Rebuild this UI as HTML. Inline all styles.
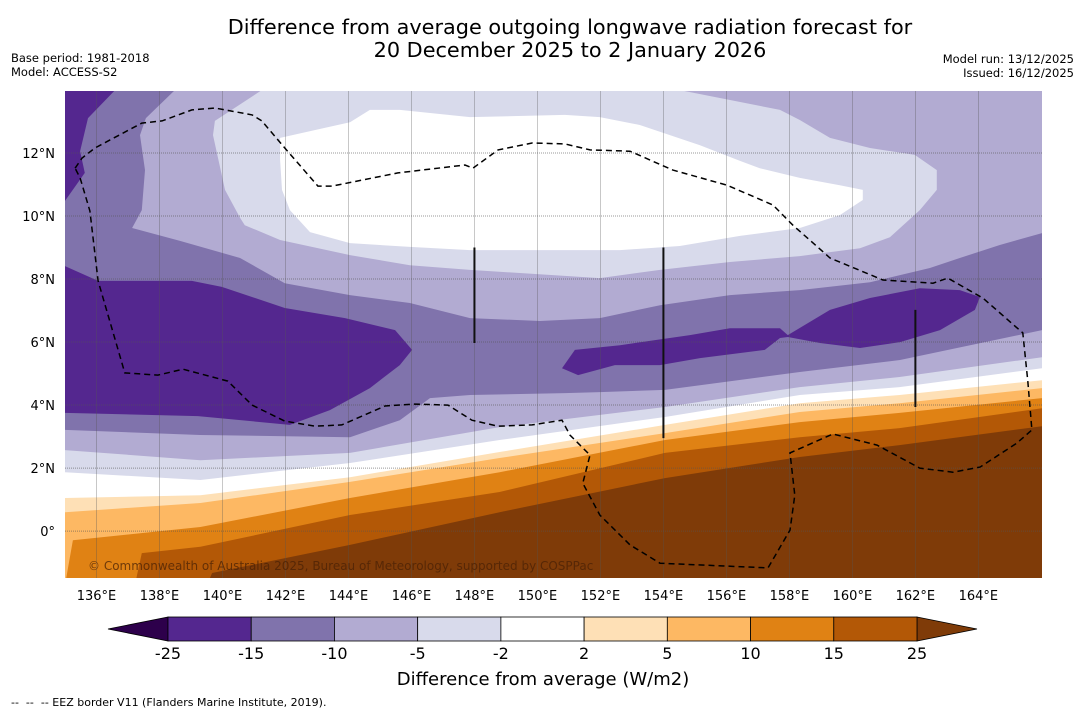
<!DOCTYPE html>
<html><head><meta charset="utf-8"><style>
html,body{margin:0;padding:0;background:#fff;width:1085px;height:713px;overflow:hidden;font-family:"Liberation Sans","DejaVu Sans",sans-serif;}
svg{position:absolute;left:0;top:0}
</style></head><body>
<svg id="chart" width="1085" height="713" xmlns="http://www.w3.org/2000/svg">
<text x="570" y="34" text-anchor="middle" font-size="20.8" font-family="DejaVu Sans, sans-serif">Difference from average outgoing longwave radiation forecast for</text>
<text x="570" y="57" text-anchor="middle" font-size="20.8" font-family="DejaVu Sans, sans-serif">20 December 2025 to 2 January 2026</text>
<text x="11" y="62" font-size="11.5" font-family="DejaVu Sans, sans-serif">Base period: 1981-2018</text>
<text x="11" y="76" font-size="11.5" font-family="DejaVu Sans, sans-serif">Model: ACCESS-S2</text>
<text x="1074" y="63" text-anchor="end" font-size="11.5" font-family="DejaVu Sans, sans-serif">Model run: 13/12/2025</text>
<text x="1074" y="77" text-anchor="end" font-size="11.5" font-family="DejaVu Sans, sans-serif">Issued: 16/12/2025</text>
<defs><clipPath id="mapclip"><rect x="65" y="91" width="977" height="487"/></clipPath></defs>
<g id="map" clip-path="url(#mapclip)"></g>
<g id="axes"></g>
<g id="cbar"></g>
<text x="543" y="685" text-anchor="middle" font-size="18" font-family="DejaVu Sans, sans-serif">Difference from average (W/m2)</text>
<text x="11" y="706" font-size="11" font-family="DejaVu Sans, sans-serif" xml:space="preserve">--  --  -- EEZ border V11 (Flanders Marine Institute, 2019).</text>
</svg>
<script>
// ---- data ----
const levels = [-25,-15,-10,-5,-2,2,5,10,15,25];
const levelColors = ["#54278f","#8073ac","#b2abd2","#d8daeb","#ffffff","#fee0b6","#fdb863","#e08214","#b35806"];
const underColor = "#2d004b";
const overColor = "#7f3b08";
const lonTicks = [136,138,140,142,144,146,148,150,152,154,156,158,160,162,164];
const latTicks = [0,2,4,6,8,10,12];
// contour regions [lon,lat]
const regionMedium = [[135,14],[138.49,14],[137.57,13.11],[137.38,12.57],[137.54,11.46],[137.44,10.19],[137.13,9.62],[138.65,9.21],[140.56,8.67],[141.98,7.87],[144.05,7.49],[145.95,7.24],[147.86,6.76],[150.08,6.67],[151.98,6.76],[153.89,7.17],[156.11,7.49],[158.33,7.65],[160.56,7.9],[162.46,8.35],[163.41,8.67],[164.68,9.08],[166.02,9.46],[166.02,6.38],[161.51,5.43],[158.33,5.05],[154.05,4.48],[151.98,4.41],[150.87,4.38],[147.86,4.32],[146.59,4.22],[145.63,3.52],[144.05,2.98],[139.29,3.05],[135,3.21]];
const regionDarkNW = [[135,14],[136.59,14],[135.73,13.11],[135.48,12.06],[135.63,11.37],[135,10.48]];
const regionDarkW = [[135,8.41],[136.05,7.94],[139.03,7.94],[139.98,7.75],[141.98,7.08],[143.89,6.76],[145.48,6.38],[146.02,5.75],[145.63,5.27],[144.68,4.54],[143.41,3.84],[142.14,3.37],[139.22,3.65],[135,3.75]];
const regionDarkE = [[150.78,5.17],[151.19,5.75],[152.62,5.9],[154.84,6.22],[156.11,6.44],[157.7,6.44],[157.95,6.22],[159.29,7.02],[160.56,7.4],[162.14,7.71],[163.41,7.65],[164.05,7.43],[163.89,7.02],[162.78,6.38],[161.51,6.0],[160.24,5.81],[158.97,5.97],[157.95,6.16],[157.7,6.13],[157.22,5.75],[155.16,5.49],[153.89,5.27],[152.46,5.27],[151.29,4.95]];
const regionLightestN = [[141.25,14],[139.76,13.02],[139.7,12.57],[140.08,10.83],[140.56,9.94],[140.71,9.71],[141.83,9.24],[144.05,8.76],[145.95,8.44],[147.86,8.29],[150.87,8.1],[151.98,8.03],[153.89,8.29],[156.11,8.54],[158.33,8.73],[160.24,8.98],[161.19,9.33],[162.14,10.19],[162.68,10.83],[162.68,11.46],[161.98,11.94],[160.56,12.16],[159.29,12.48],[158.33,13.05],[157.7,13.37],[154.52,14]];
const regionWhiteN = [[141.83,12.48],[144.05,12.98],[144.68,13.37],[145.63,13.37],[147.86,13.14],[150.87,13.21],[151.98,13.14],[153.25,12.89],[155.16,12.25],[156.43,11.75],[157.06,11.52],[158.33,11.21],[159.6,10.98],[160.33,10.83],[160.33,10.51],[159.6,10.03],[158.33,9.62],[156.43,9.37],[154.52,9.05],[152.62,8.92],[150.08,8.92],[147.86,8.92],[145.95,9.02],[144.05,9.14],[142.78,9.49],[142.14,10.19],[141.89,10.83],[141.83,11.78]];
// southern contour lines (region south of line filled)
const southLons = [135,139.3,144.05,148.8,154.05,158.33,161.5,166.02];
const lineM5 = [2.57,2.25,2.48,3.3,3.94,4.57,4.89,5.52];
const lineM2 = [1.87,1.62,2.16,2.89,3.62,4.32,4.57,5.17];
const lineP2 = [1.05,1.14,1.71,2.51,3.37,4.06,4.32,4.79];
const lineP5 = [0.6,0.89,1.56,2.32,3.11,3.78,4.06,4.54];
const lineP10 = [[135,-1.71],[135.25,-0.29],[139.3,0.13],[144.05,1.05],[148.8,1.87],[154.05,2.89],[158.33,3.46],[161.5,3.75],[166.02,4.22]];
const lineP15 = [[137.22,-1.71],[137.44,-0.7],[139.3,-0.5],[144.05,0.51],[148.8,1.24],[154.05,2.48],[158.33,2.98],[161.5,3.27],[166.02,3.9]];
const lineP25 = [[139.44,-1.87],[139.67,-1.33],[144.05,-0.44],[148.8,0.6],[154.05,1.68],[158.33,2.35],[161.5,2.73],[166.02,3.33]];
const eezBorder = [[135.32,11.52],[135.54,11.84],[135.95,12.16],[137.44,12.95],[138.08,13.02],[139.03,13.37],[139.76,13.43],[140.94,13.21],[141.25,13.02],[141.98,12.16],[143.03,10.95],[143.48,10.95],[145.57,11.37],[147.7,11.62],[147.95,11.52],[148.75,12.1],[149.83,12.32],[150.87,12.29],[151.67,12.1],[152.94,12.06],[154.3,11.46],[156.02,10.98],[157.48,10.35],[158.11,9.71],[159.29,8.67],[160.97,7.97],[162.56,7.87],[163.03,8.03],[164.14,7.4],[165.41,6.29],[165.57,4.76],[165.7,3.21],[165.22,2.79],[164.05,2.03],[163.19,1.87],[162.14,2.0],[160.78,2.73],[159.38,3.08],[158.02,2.48],[158.17,1.14],[158.02,0.03],[157.32,-1.17],[153.89,-1.02],[152.94,-0.44],[151.98,0.51],[151.44,1.52],[151.67,2.41],[151.03,3.05],[150.78,3.52],[149.83,3.37],[148.75,3.33],[147.92,3.52],[147.16,4.0],[146.11,4.03],[145.16,3.97],[143.79,3.37],[142.94,3.33],[141.98,3.49],[140.94,4.0],[140.17,4.76],[138.75,5.14],[137.95,4.95],[136.9,5.02],[136.05,7.94],[135.79,10.16],[135.48,11.21],[135.32,11.52]];
const markerLons = [148,154,162];
const markerTop = [9.0,9.0,7.02];
const markerBottom = [5.97,2.95,3.94];

// ---- axis functions ----
const X0=65, X1=1042, Y0=91, Y1=578;
const lonMin=135, lonMax=166.02, latMin=-1.49, latMax=13.97;
function x(lon){return X0+(lon-lonMin)/(lonMax-lonMin)*(X1-X0);}
function y(lat){return Y1-(lat-latMin)/(latMax-latMin)*(Y1-Y0);}
const NS="http://www.w3.org/2000/svg";
function mk(tag,attrs,parent){const e=document.createElementNS(NS,tag);for(const k in attrs)e.setAttribute(k,attrs[k]);parent.appendChild(e);return e;}
function pts(arr){return arr.map(p=>x(p[0]).toFixed(1)+","+y(p[1]).toFixed(1)).join(" ");}
function southPoly(pairs){return pts(pairs.concat([[167,pairs[pairs.length-1][1]],[167,-3],[134,-3],[134,pairs[0][1]]]));}
const map=document.getElementById('map');
let el;
el=mk('rect',{x:X0,y:Y0,width:X1-X0,height:Y1-Y0,fill:levelColors[2]},map);


el=mk('polygon',{points:pts(regionMedium),fill:levelColors[1]},map);


[regionDarkNW,regionDarkW,regionDarkE].forEach(r=>{
  const e=mk('polygon',{points:pts(r),fill:levelColors[0]},map);
  
  
});
el=mk('polygon',{points:pts(regionLightestN),fill:levelColors[3]},map);


el=mk('polygon',{points:pts(regionWhiteN),fill:levelColors[4]},map);


const southLines=[lineM5,lineM2,lineP2,lineP5].map(l=>l.map((v,i)=>[southLons[i],v])).concat([lineP10,lineP15,lineP25]);
const southColors=[levelColors[3],levelColors[4],levelColors[5],levelColors[6],levelColors[7],levelColors[8],overColor];
const southNames=['band-minus5-minus2-south','band-near-zero-south','band-2-5','band-5-10','band-10-15','band-15-25','band-above-25'];
southLines.forEach((l,i)=>{
  const e=mk('polygon',{points:southPoly(l),fill:southColors[i]},map);
  
  
});
// grid
lonTicks.forEach(lon=>{
  const e=mk('line',{x1:x(lon),x2:x(lon),y1:Y0,y2:Y1,stroke:"#555",'stroke-width':0.6,'stroke-opacity':0.55},map);
  
  
});
latTicks.forEach(lat=>{
  const e=mk('line',{x1:X0,x2:X1,y1:y(lat),y2:y(lat),stroke:"#555",'stroke-width':1,'stroke-dasharray':'1,1','stroke-opacity':0.6},map);
  
  
});
el=mk('polyline',{points:pts(eezBorder),fill:"none",stroke:"#000",'stroke-width':1.5,'stroke-dasharray':'6,4'},map);


markerLons.forEach((lon,i)=>{
  const e=mk('line',{x1:x(lon),x2:x(lon),y1:y(markerTop[i]),y2:y(markerBottom[i]),stroke:"#111",'stroke-width':2},map);
  
  
});
el=mk('text',{x:88,y:570,'font-size':12,fill:"#4a2205",'fill-opacity':0.75,'font-family':"DejaVu Sans, sans-serif"},map);
el.textContent="© Commonwealth of Australia 2025, Bureau of Meteorology, supported by COSPPac";


// axes labels
const axes=document.getElementById('axes');
lonTicks.forEach(lon=>{
  const e=mk('text',{x:x(lon),y:600,'text-anchor':'middle','font-size':13,'font-family':"DejaVu Sans, sans-serif"},axes);
  e.textContent=lon+"°E";
  
  
});
latTicks.forEach(lat=>{
  const e=mk('text',{x:55,y:y(lat)+5,'text-anchor':'end','font-size':13,'font-family':"DejaVu Sans, sans-serif"},axes);
  e.textContent=lat===0?"0°":lat+"°N";
  
  
});
// colorbar
const cb=document.getElementById('cbar');
const cbL=168, cbR=917, cbT=617, cbB=641, triW=60;
const segW=(cbR-cbL)/levelColors.length;
el=mk('polygon',{points:`${cbL},${cbT} ${cbL-triW},${(cbT+cbB)/2} ${cbL},${cbB}`,fill:underColor,stroke:"#000",'stroke-width':0.8},cb);


el=mk('polygon',{points:`${cbR},${cbT} ${cbR+triW},${(cbT+cbB)/2} ${cbR},${cbB}`,fill:overColor,stroke:"#000",'stroke-width':0.8},cb);


levelColors.forEach((c,i)=>{
  const e=mk('rect',{x:cbL+i*segW,y:cbT,width:segW,height:cbB-cbT,fill:c,stroke:"#000",'stroke-width':0.8},cb);
  
  
});
levels.forEach((v,i)=>{
  const e=mk('text',{x:cbL+i*segW,y:659,'text-anchor':'middle','font-size':16,'font-family':"DejaVu Sans, sans-serif"},cb);
  e.textContent=v;
  
  
});
</script>
</body></html>
